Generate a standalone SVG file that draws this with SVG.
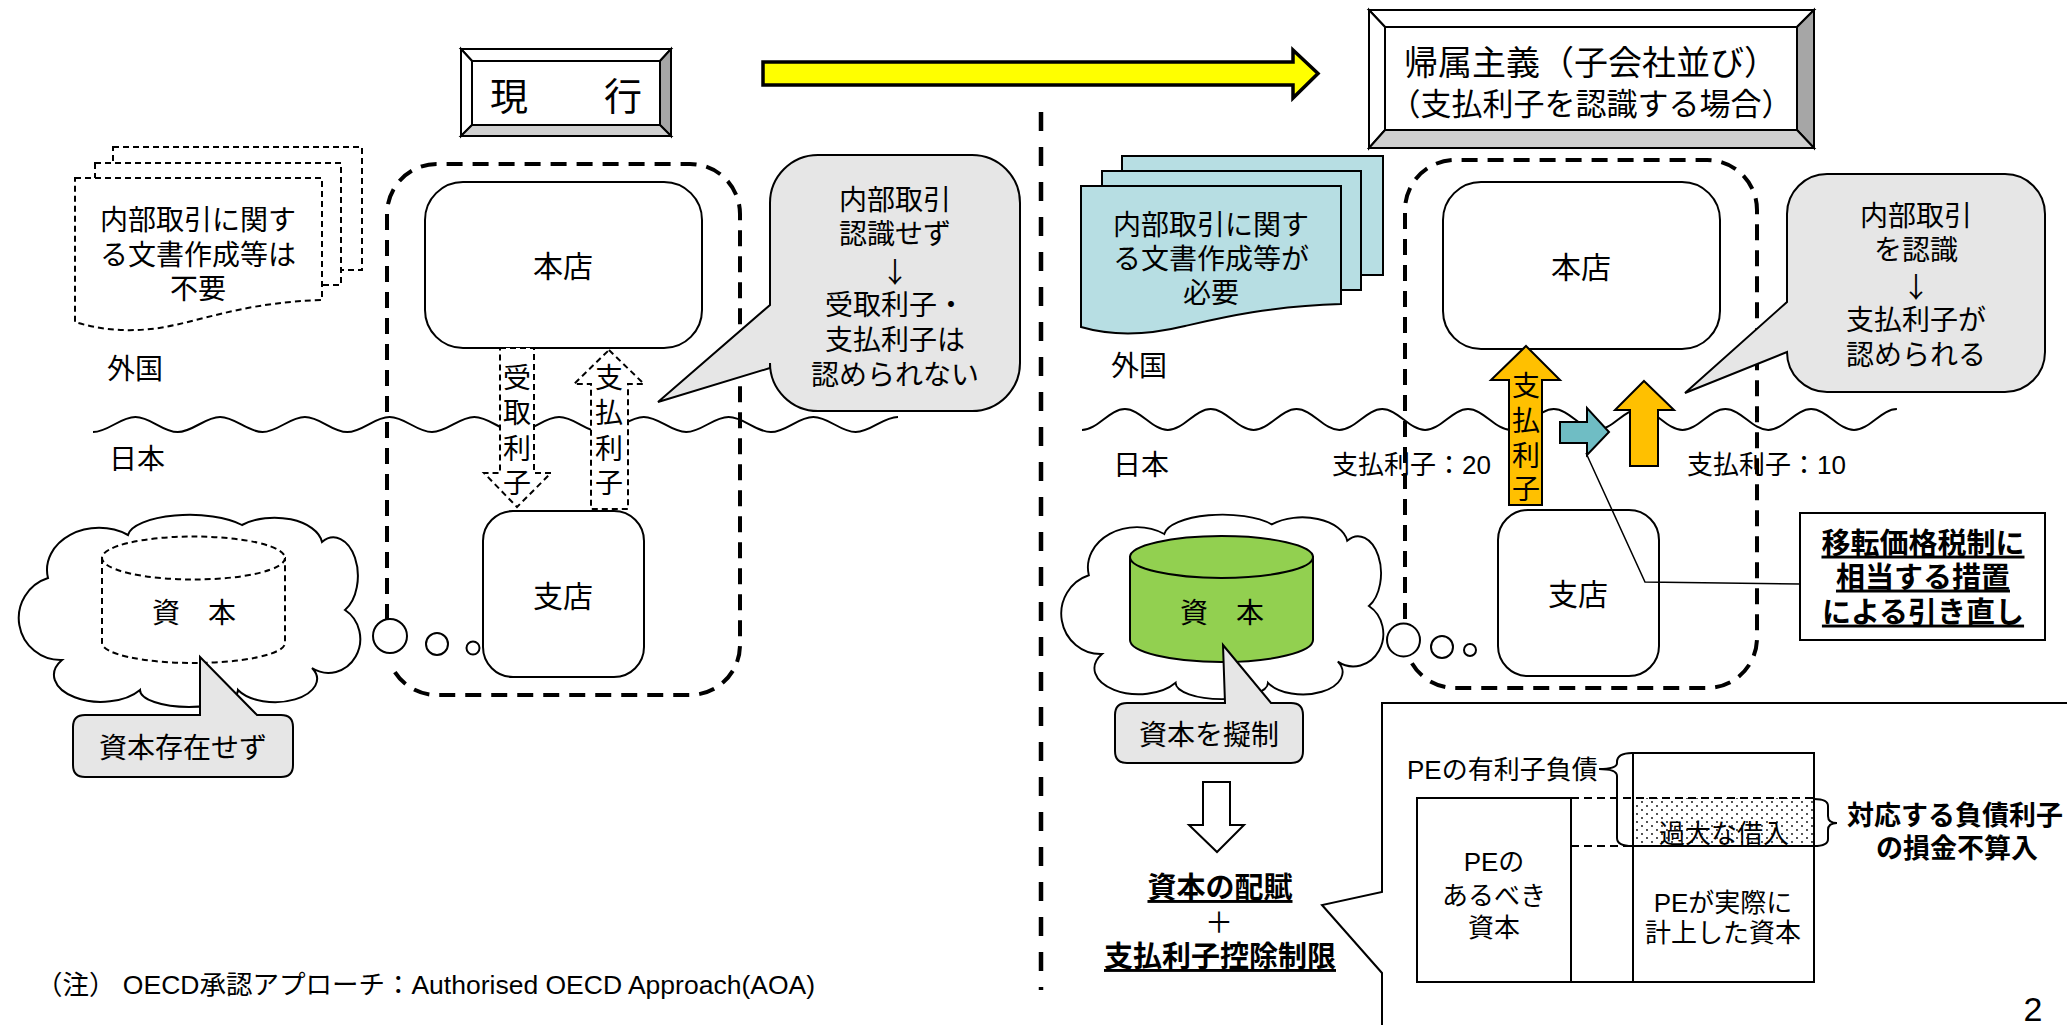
<svg xmlns="http://www.w3.org/2000/svg" width="2067" height="1025" viewBox="0 0 2067 1025">
<defs>
<style>
.t{font-family:"Liberation Sans","Noto Sans CJK JP",sans-serif;font-size:28px;fill:#000}
.c{text-anchor:middle}
.ar{font-family:"Noto Sans CJK JP",sans-serif}
.bu{font-weight:bold;text-decoration:underline}
.bd{font-weight:bold}
.ln{fill:none;stroke:#000;stroke-width:2}
.wf{fill:#fff;stroke:#000;stroke-width:2}
.gray{fill:#e6e6e6;stroke:#000;stroke-width:2}
.dsh{fill:#fff;stroke:#000;stroke-width:2;stroke-dasharray:6 4}
.cont{fill:none;stroke:#000;stroke-width:4;stroke-dasharray:16 10}
.wave{fill:none;stroke:#000;stroke-width:2}
.orange{fill:#ffc000;stroke:#000;stroke-width:2}
</style>
<pattern id="dots" width="10" height="8" patternUnits="userSpaceOnUse"><circle cx="2" cy="2" r="0.9" fill="#000"/><circle cx="7" cy="6" r="0.9" fill="#000"/></pattern>
<path id="cloud" d="M 48 578 A 52 42 0 0 1 128 535 A 62 22 0 0 1 242 525 A 48 28 0 0 1 322 542 A 24 38 0 0 1 345 610 A 30 32 0 0 1 312 668 A 40 22 0 0 1 238 690 A 49 17 0 0 1 140 690 A 42 24 0 0 1 62 660 A 42 42 0 0 1 48 578 Z"/>
</defs>
<rect width="2067" height="1025" fill="#fff"/>

<g id="divider">
<line x1="1041" y1="112" x2="1041" y2="990" stroke="#000" stroke-width="4.5" stroke-dasharray="19 16"/>
</g>

<g id="transition-arrow">
<path d="M 763 62 L 1293 62 L 1293 50 L 1318 73.5 L 1293 98 L 1293 85 L 763 85 Z" fill="#ffff00" stroke="#000" stroke-width="3.5" stroke-linejoin="miter"/>
</g>

<g id="title-current">
<polygon points="461,49 671,49 660,61 472,61" class="wf"/>
<polygon points="461,49 472,61 472,125 461,136" class="wf"/>
<polygon points="671,49 671,136 660,125 660,61" fill="#a6a6a6" stroke="#000" stroke-width="2"/>
<polygon points="461,136 671,136 660,125 472,125" fill="#d0d0d0" stroke="#000" stroke-width="2"/>
<rect x="472" y="61" width="188" height="64" class="wf"/>
<text class="t c" x="566" y="110" style="font-size:38px">現　　行</text>
</g>

<g id="title-new">
<polygon points="1369,10 1814,10 1797,27 1385,27" class="wf"/>
<polygon points="1369,10 1385,27 1385,130 1369,148" class="wf"/>
<polygon points="1814,10 1814,148 1797,130 1797,27" fill="#a6a6a6" stroke="#000" stroke-width="2"/>
<polygon points="1369,148 1814,148 1797,130 1385,130" fill="#d0d0d0" stroke="#000" stroke-width="2"/>
<rect x="1385" y="27" width="412" height="103" class="wf"/>
<text class="t c" x="1591" y="75" style="font-size:34px">帰属主義（子会社並び）</text>
<text class="t c" x="1591" y="115" style="font-size:31px">（支払利子を認識する場合）</text>
</g>

<g id="waves">
<path class="wave" d="M 93 432 C 108.3 432 120.1 417 135.4 417 S 162.5 432 177.7 432 S 204.9 417 220.1 417 S 247.2 432 262.5 432 S 289.6 417 304.9 417 S 332 432 347.2 432 S 374.3 417 389.6 417 S 416.7 432 432 432 S 459.1 417 474.3 417 S 501.5 432 516.7 432 S 543.8 417 559.1 417 S 586.2 432 601.4 432 S 628.6 417 643.8 417 S 670.9 432 686.2 432 S 713.3 417 728.6 417 S 755.7 432 770.9 432 S 798 417 813.3 417 S 840.4 432 855.7 432 S 882.8 417 898 417"/>
<path class="wave" d="M 1082 430 C 1097.4 430 1109.5 409 1124.9 409 S 1152.3 430 1167.8 430 S 1195.2 409 1210.7 409 S 1238.1 430 1253.6 430 S 1281 409 1296.5 409 S 1323.9 430 1339.3 430 S 1366.8 409 1382.2 409 S 1409.7 430 1425.1 430 S 1452.6 409 1468 409 S 1495.5 430 1510.9 430 S 1538.4 409 1553.8 409 S 1581.2 430 1596.7 430 S 1624.1 409 1639.6 409 S 1667 430 1682.5 430 S 1709.9 409 1725.4 409 S 1752.8 430 1768.2 430 S 1795.7 409 1811.1 409 S 1838.6 430 1854 430 S 1881.5 409 1896.9 409"/>
</g>

<g id="left-docs">
<rect x="113" y="147" width="249" height="123" class="dsh"/>
<rect x="95" y="163" width="246" height="122" class="dsh"/>
<path class="dsh" d="M 75 178 L 322 178 L 322 300 C 255 302 215 316 175 325 C 135 334 100 330 75 322 Z"/>
<text class="t c" x="198"><tspan x="198" y="230">内部取引に関す</tspan><tspan x="198" y="264.5">る文書作成等は</tspan><tspan x="198" y="298.5">不要</tspan></text>
</g>

<g id="left-labels">
<text class="t" x="107" y="378.6">外国</text>
<text class="t" x="109" y="468.6">日本</text>
</g>

<g id="left-capital">
<use href="#cloud" fill="#fff" stroke="#000" stroke-width="2"/>
<path class="dsh" d="M 102 558 L 102 643 A 91.5 20 0 0 0 285 643 L 285 558 Z"/>
<ellipse cx="193.5" cy="558" rx="91.5" ry="21.5" class="dsh"/>
<text class="t c" x="194" y="622.6">資　本</text>
</g>

<g id="left-capital-callout">
<path class="gray" d="M 85 715 L 200 715 L 200 657 L 257 715 L 281 715 Q 293 715 293 727 L 293 765 Q 293 777 281 777 L 85 777 Q 73 777 73 765 L 73 727 Q 73 715 85 715 Z"/>
<text class="t c" x="183" y="757.6">資本存在せず</text>
</g>

<g id="left-container">
<path class="cont" d="M 387 620 L 387 214 A 50 50 0 0 1 437 164 L 690 164 A 50 50 0 0 1 740 214 L 740 645 A 50 50 0 0 1 690 695 L 437 695 A 50 50 0 0 1 392 667"/>
<circle cx="390" cy="636" r="17" class="wf"/>
<circle cx="437" cy="644" r="11" class="wf"/>
<circle cx="473" cy="648" r="6.5" class="wf"/>
</g>

<g id="left-honten">
<rect x="425" y="182" width="277" height="166" rx="38" class="wf"/>
<text class="t c" x="563" y="276.6" style="font-size:30px">本店</text>
</g>

<g id="left-shiten">
<rect x="483" y="511" width="161" height="166" rx="30" class="wf"/>
<text class="t c" x="563" y="606.6" style="font-size:30px">支店</text>
</g>

<g id="left-arrows">
<path class="dsh" d="M 500 348 L 534 348 L 534 473 L 551 473 L 517 507 L 484 473 L 500 473 Z"/>
<text class="t c" x="517"><tspan x="517" y="387.6">受</tspan><tspan x="517" y="422.6">取</tspan><tspan x="517" y="458.6">利</tspan><tspan x="517" y="492.6">子</tspan></text>
<path class="dsh" d="M 609 350 L 644 384 L 628 384 L 628 509 L 591 509 L 591 384 L 574 384 Z"/>
<text class="t c" x="609"><tspan x="609" y="387.6">支</tspan><tspan x="609" y="422.6">払</tspan><tspan x="609" y="458.6">利</tspan><tspan x="609" y="492.6">子</tspan></text>
</g>

<g id="left-callout">
<path class="gray" d="M 818 155 L 972 155 A 48 48 0 0 1 1020 203 L 1020 363 A 48 48 0 0 1 972 411 L 818 411 A 48 48 0 0 1 770 363 L 770 368 L 658 402 L 770 305 L 770 203 A 48 48 0 0 1 818 155 Z"/>
<text class="t c" x="895"><tspan x="895" y="210">内部取引</tspan><tspan x="895" y="244">認識せず</tspan><tspan x="895" y="283" class="ar">↓</tspan><tspan x="895" y="315">受取利子・</tspan><tspan x="895" y="350">支払利子は</tspan><tspan x="895" y="385">認められない</tspan></text>
</g>

<g id="footnote">
<text class="t" x="36" y="994" style="font-size:26.5px">（注） OECD承認アプローチ：Authorised OECD Approach(AOA)</text>
</g>

<g id="right-docs">
<rect x="1122" y="156" width="261" height="119" fill="#b7dee3" stroke="#000" stroke-width="2"/>
<rect x="1102" y="171" width="259" height="119" fill="#b7dee3" stroke="#000" stroke-width="2"/>
<path d="M 1081 186 L 1341 186 L 1341 304 C 1270 306 1220 318 1185 326 C 1140 337 1105 334 1081 327 Z" fill="#b7dee3" stroke="#000" stroke-width="2"/>
<text class="t c" x="1211"><tspan x="1211" y="235">内部取引に関す</tspan><tspan x="1211" y="269">る文書作成等が</tspan><tspan x="1211" y="303">必要</tspan></text>
</g>

<g id="right-labels">
<text class="t" x="1111" y="375.6">外国</text>
<text class="t" x="1113" y="474.6">日本</text>
<text class="t" x="1332" y="474" style="font-size:26px">支払利子：20</text>
<text class="t" x="1687" y="474" style="font-size:26px">支払利子：10</text>
</g>

<g id="right-capital">
<use href="#cloud" transform="translate(1053,510) scale(0.943,0.96) translate(-10,-510)" fill="#fff" stroke="#000" stroke-width="2"/>
<path d="M 1130 557 L 1130 640 A 91.5 22 0 0 0 1313 640 L 1313 557 Z" fill="#92d050" stroke="#000" stroke-width="2"/>
<ellipse cx="1221.5" cy="557" rx="91.5" ry="21" fill="#92d050" stroke="#000" stroke-width="2"/>
<text class="t c" x="1222" y="622.6">資　本</text>
</g>

<g id="right-capital-callout">
<path class="gray" d="M 1127 703 L 1225 703 L 1223 645 L 1271 703 L 1291 703 Q 1303 703 1303 715 L 1303 751 Q 1303 763 1291 763 L 1127 763 Q 1115 763 1115 751 L 1115 715 Q 1115 703 1127 703 Z"/>
<text class="t c" x="1209" y="744.6">資本を擬制</text>
</g>

<g id="hollow-arrow">
<path class="wf" d="M 1203 782 L 1230 782 L 1230 825 L 1244 825 L 1217 852 L 1189 825 L 1203 825 Z"/>
</g>

<g id="result-text">
<text class="t c bu" x="1220" y="898" style="font-size:29px">資本の配賦</text>
<text class="t c" x="1219" y="933" style="font-size:28px">＋</text>
<text class="t c bu" x="1220" y="967" style="font-size:29px">支払利子控除制限</text>
</g>

<g id="right-container">
<path class="cont" d="M 1405 619 L 1405 210 A 50 50 0 0 1 1455 160 L 1707 160 A 50 50 0 0 1 1757 210 L 1757 638 A 50 50 0 0 1 1707 688 L 1455 688 A 50 50 0 0 1 1410.5 660.7"/>
<circle cx="1403.5" cy="640" r="16.5" class="wf"/>
<circle cx="1442" cy="647" r="11" class="wf"/>
<circle cx="1470" cy="650" r="6" class="wf"/>
</g>

<g id="right-honten">
<rect x="1443" y="182" width="277" height="167" rx="38" class="wf"/>
<text class="t c" x="1581" y="277.6" style="font-size:30px">本店</text>
</g>

<g id="right-shiten">
<rect x="1498" y="510" width="161" height="166" rx="30" class="wf"/>
<text class="t c" x="1578" y="604.6" style="font-size:30px">支店</text>
</g>

<g id="right-arrows">
<path class="orange" d="M 1526 346 L 1560 380 L 1542 380 L 1542 505 L 1509 505 L 1509 380 L 1491 380 Z"/>
<text class="t c" x="1526"><tspan x="1526" y="395.6">支</tspan><tspan x="1526" y="431">払</tspan><tspan x="1526" y="465.6">利</tspan><tspan x="1526" y="498.6">子</tspan></text>
<path class="orange" d="M 1644 381 L 1674 410 L 1658 410 L 1658 466 L 1630 466 L 1630 410 L 1615 410 Z"/>
<path d="M 1560 422 L 1587 422 L 1587 408 L 1609 432 L 1587 455 L 1587 443 L 1560 443 Z" fill="#6fbdc4" stroke="#000" stroke-width="2"/>
</g>

<g id="connectors">
<polyline points="1586,453 1645,582 1800,584" fill="none" stroke="#000" stroke-width="1.5"/>
</g>

<g id="right-callout">
<path class="gray" d="M 1827 174 L 2005 174 A 40 40 0 0 1 2045 214 L 2045 352 A 40 40 0 0 1 2005 392 L 1827 392 A 40 40 0 0 1 1787 352 L 1685 393 L 1787 302 L 1787 214 A 40 40 0 0 1 1827 174 Z"/>
<text class="t c" x="1916"><tspan x="1916" y="225.6">内部取引</tspan><tspan x="1916" y="259.6">を認識</tspan><tspan x="1916" y="298" class="ar">↓</tspan><tspan x="1916" y="329.6">支払利子が</tspan><tspan x="1916" y="364.6">認められる</tspan></text>
</g>

<g id="transfer-pricing-box">
<rect x="1800" y="513" width="245" height="127" class="wf"/>
<text class="t c bu" x="1923" style="font-size:29px"><tspan x="1923" y="553.6">移転価格税制に</tspan><tspan x="1923" y="587.6">相当する措置</tspan><tspan x="1923" y="622.6">による引き直し</tspan></text>
</g>

<g id="detail-callout">
<path class="wf" d="M 1382 703 L 2080 703 L 2080 1040 L 1382 1040 L 1382 973 L 1322 905 L 1382 892 Z" stroke-width="2.5"/>
<rect x="1633" y="798" width="181" height="48" fill="url(#dots)"/>
<rect x="1633" y="753" width="181" height="229" class="ln"/>
<line x1="1633" y1="846" x2="1814" y2="846" stroke="#000" stroke-width="2"/>
<rect x="1417" y="798" width="154" height="184" class="ln"/>
<line x1="1571" y1="982" x2="1633" y2="982" stroke="#000" stroke-width="2"/>
<line x1="1571" y1="798" x2="1814" y2="798" stroke="#000" stroke-width="2" stroke-dasharray="8 5"/>
<line x1="1571" y1="846" x2="1633" y2="846" stroke="#000" stroke-width="2" stroke-dasharray="8 5"/>
<path class="ln" d="M 1632 753 Q 1617 753 1617 762 L 1617 763 Q 1617 769 1599 769 Q 1617 769 1617 776 L 1617 838 Q 1617 846 1632 846"/>
<path class="ln" d="M 1814 799 Q 1828 799 1828 806 L 1828 816 Q 1828 823 1837 823 Q 1828 823 1828 830 L 1828 839 Q 1828 846 1814 846"/>
<text class="t" x="1407" y="779" style="font-size:26px">PEの有利子負債</text>
<text class="t c" x="1724" y="843" style="font-size:26px">過大な借入</text>
<text class="t c" x="1494" style="font-size:26px"><tspan x="1494" y="871">PEの</tspan><tspan x="1494" y="905">あるべき</tspan><tspan x="1494" y="937">資本</tspan></text>
<text class="t c" x="1723" style="font-size:26px"><tspan x="1723" y="912">PEが実際に</tspan><tspan x="1723" y="942">計上した資本</tspan></text>
<text class="t c bd" x="1955" style="font-size:27px"><tspan x="1955" y="824.6">対応する負債利子</tspan><tspan x="1957" y="857.6">の損金不算入</tspan></text>
</g>

<g id="page-number">
<text class="t c" x="2033" y="1021" style="font-size:34px">2</text>
</g>
</svg>
